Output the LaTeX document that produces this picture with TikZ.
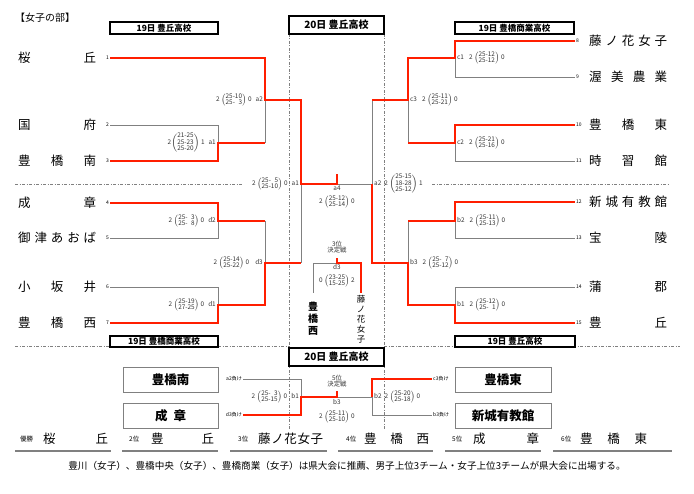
\documentclass[tikz,border=0pt]{standalone}
\usepackage{fontspec}
\setmainfont{Noto Sans CJK JP}
\usetikzlibrary{positioning,calc}
\definecolor{myred}{RGB}{255,30,0}
\definecolor{mygray}{RGB}{128,128,128}
\newcommand{\score}[1]{$\left(\begin{tabular}{@{}c@{}}#1\end{tabular}\right)$}
\newcommand{\spread}[2][78pt]{\makebox[#1]{#2}}

\begin{document}
\begin{tikzpicture}[x=1pt,y=-1pt,
        win/.style={draw=myred,line width=2pt},
        lose/.style={draw=mygray,line width=0.8pt},
        sep/.style={draw=mygray,line width=0.6pt,dash pattern=on 3pt off 1.5pt on 1pt off 1.5pt},
        tname/.style={anchor=west,inner sep=0pt,font=\fontsize{12.5}{13}\selectfont},
        num/.style={inner sep=1pt,font=\fontsize{5}{5}\selectfont},
        res/.style={inner sep=1pt,text=black!80,font=\fontsize{6.4}{6.6}\selectfont},
        day/.style={draw=black,line width=1.5pt,fill=white,inner sep=0pt,minimum height=12pt,font=\bfseries\fontsize{8.5}{9}\selectfont},
        team/.style={draw=mygray,line width=0.8pt,fill=white,inner sep=0pt,minimum width=95pt,minimum height=25pt,font=\bfseries\fontsize{12.5}{13}\selectfont},
        rank/.style={anchor=west,inner sep=0pt,font=\fontsize{6.5}{7}\selectfont},
        ]
        \useasboundingbox (0,0) rectangle (694,494);

        % the separating lines
        \draw[sep] (289,34) -- (289,430);
        \draw[sep] (384,34) -- (384,430);
        \draw[sep] (15,184) -- (243,184);
        \draw[sep] (432,184) -- (670,184);
        \draw[sep] (15,346) -- (289,346);
        \draw[sep] (384,346) -- (680,346);

        % the headers
        \node[anchor=west,inner sep=0pt,font=\fontsize{10}{10}\selectfont] (title) at (15,18) {【女子の部】};
        \node[day,minimum width=108pt] (dayL) at (164,28) {19日 豊丘高校};
        \node[day,minimum width=95pt,minimum height=18pt,font=\bfseries\fontsize{10}{10}\selectfont] (dayC) at (336.5,25) {20日 豊丘高校};
        \node[day,minimum width=119pt] (dayR) at (514.5,28) {19日 豊橋商業高校};

        % the teams on the left
        \node[tname] (n1) at (18,58) {\spread{桜\hfill 丘}};
        \node[tname] (n2) at (18,125) {\spread{国\hfill 府}};
        \node[tname] (n3) at (18,161) {\spread{豊\hfill 橋\hfill 南}};
        \node[tname] (n4) at (18,203) {\spread{成\hfill 章}};
        \node[tname] (n5) at (18,238) {\spread{御\hfill 津\hfill あ\hfill お\hfill ば}};
        \node[tname] (n6) at (18,287) {\spread{小\hfill 坂\hfill 井}};
        \node[tname] (n7) at (18,323) {\spread{豊\hfill 橋\hfill 西}};

        % the teams on the right
        \node[tname] (n8) at (589,41) {\spread{藤\hfill ノ\hfill 花\hfill 女\hfill 子}};
        \node[tname] (n9) at (589,77) {\spread{渥\hfill 美\hfill 農\hfill 業}};
        \node[tname] (n10) at (589,125) {\spread{豊\hfill 橋\hfill 東}};
        \node[tname] (n11) at (589,161) {\spread{時\hfill 習\hfill 館}};
        \node[tname] (n12) at (589,202) {\spread{新\hfill 城\hfill 有\hfill 教\hfill 館}};
        \node[tname] (n13) at (589,238) {\spread{宝\hfill 陵}};
        \node[tname] (n14) at (589,287) {\spread{蒲\hfill 郡}};
        \node[tname] (n15) at (589,323) {\spread{豊\hfill 丘}};

        % the ends of the team lines
        \coordinate (L1) at (110,58);
        \coordinate (L2) at (110,125);
        \coordinate (L3) at (110,161);
        \coordinate (L4) at (110,203);
        \coordinate (L5) at (110,238);
        \coordinate (L6) at (110,287);
        \coordinate (L7) at (110,323);
        \coordinate (R8) at (575,41);
        \coordinate (R9) at (575,77);
        \coordinate (R10) at (575,125);
        \coordinate (R11) at (575,161);
        \coordinate (R12) at (575,202);
        \coordinate (R13) at (575,238);
        \coordinate (R14) at (575,287);
        \coordinate (R15) at (575,323);

        % the draw numbers
        \node[num,anchor=east] (k1) at (L1) {1};
        \node[num,anchor=east] (k2) at (L2) {2};
        \node[num,anchor=east] (k3) at (L3) {3};
        \node[num,anchor=east] (k4) at (L4) {4};
        \node[num,anchor=east] (k5) at (L5) {5};
        \node[num,anchor=east] (k6) at (L6) {6};
        \node[num,anchor=east] (k7) at (L7) {7};
        \node[num,anchor=west] (k8) at (R8) {8};
        \node[num,anchor=west] (k9) at (R9) {9};
        \node[num,anchor=west] (k10) at (R10) {10};
        \node[num,anchor=west] (k11) at (R11) {11};
        \node[num,anchor=west] (k12) at (R12) {12};
        \node[num,anchor=west] (k13) at (R13) {13};
        \node[num,anchor=west] (k14) at (R14) {14};
        \node[num,anchor=west] (k15) at (R15) {15};

        % the match points
        \coordinate (a1) at (218,143);
        \coordinate (a2) at (265,100);
        \coordinate (d2) at (218,221);
        \coordinate (d1) at (218,305);
        \coordinate (d3) at (265,263);
        \coordinate (c1) at (455,58);
        \coordinate (c2) at (455,143);
        \coordinate (c3) at (408,100);
        \coordinate (b2) at (455,221);
        \coordinate (b1) at (455,305);
        \coordinate (b3) at (408,263);
        \coordinate (sL) at (301,184);
        \coordinate (sR) at (372,184);
        \coordinate (fin) at (337,184);
        \coordinate (t3) at (337,263);
        \coordinate (t3L) at (313,293);
        \coordinate (t3R) at (361,293);

        % the lost matches
        \draw[lose] (L2) -- (L2 -| a1) -- (a1);
        \draw[lose] (a1 -| a2) -- (a2);
        \draw[lose] (L5) -- (L5 -| d2) -- (d2);
        \draw[lose] (L6) -- (L6 -| d1) -- (d1);
        \draw[lose] (d2 -| d3) -- (d3);
        \draw[lose] (d3 -| sL) -- (sL);
        \draw[lose] (R9) -- (R9 -| c1) -- (c1);
        \draw[lose] (R11) -- (R11 -| c2) -- (c2);
        \draw[lose] (c2 -| c3) -- (c3);
        \draw[lose] (c3 -| sR) -- (sR) -- (fin);
        \draw[lose] (R13) -- (R13 -| b2) -- (b2);
        \draw[lose] (R14) -- (R14 -| b1) -- (b1);
        \draw[lose] (b2 -| b3) -- (b3);
        \draw[lose] (t3L) |- (t3);

        % the won matches
        \draw[win] (L1) -- (L1 -| a2) -- (a2) -- (a2 -| sL) -- (sL) -- (fin) -- ++(0,-10);
        \draw[win] (L3) -- (L3 -| a1) -- (a1) -- (a1 -| a2);
        \draw[win] (L4) -- (L4 -| d2) -- (d2) -- (d2 -| d3);
        \draw[win] (L7) -- (L7 -| d1) -- (d1) -- (d1 -| d3) -- (d3) -- (d3 -| sL);
        \draw[win] (R8) -- (R8 -| c1) -- (c1) -- (c1 -| c3) -- (c3) -- (c3 -| sR);
        \draw[win] (R10) -- (R10 -| c2) -- (c2) -- (c2 -| c3);
        \draw[win] (R12) -- (R12 -| b2) -- (b2) -- (b2 -| b3);
        \draw[win] (R15) -- (R15 -| b1) -- (b1) -- (b1 -| b3) -- (b3) -- (b3 -| sR) -- (sR);
        \draw[win] (t3R) |- (t3) -- ++(0,-5);

        % the scores
        \node[res,anchor=east] (ra2) at (264,100) {2 \score{25-10\\25-\hphantom{1}3} 0\hspace{4pt}a2};
        \node[res,anchor=east] (ra1) at (217,143) {2\score{21-25\\25-23\\25-20} 1\hspace{4pt}a1};
        \node[res,anchor=east] (rd2) at (217,221) {2 \score{25-\hphantom{1}3\\25-\hphantom{1}8} 0\hspace{4pt}d2};
        \node[res,anchor=east] (rd3) at (264,263) {2 \score{25-14\\25-22} 0\hspace{6pt}d3};
        \node[res,anchor=east] (rd1) at (217,305) {2 \score{25-19\\27-25} 0\hspace{4pt}d1};
        \node[res,anchor=east] (rsL) at (300,184) {2 \score{25-\hphantom{1}5\\25-10} 0\hspace{4pt}a1};
        \node[res,anchor=west] (rc1) at (456,58) {c1\hspace{5pt}2 \score{25-12\\25-12} 0};
        \node[res,anchor=west] (rc2) at (456,143) {c2\hspace{5pt}2 \score{25-21\\25-16} 0};
        \node[res,anchor=west] (rc3) at (409,100) {c3\hspace{5pt}2 \score{25-11\\25-21} 0};
        \node[res,anchor=west] (rb2) at (456,221) {b2\hspace{5pt}2 \score{25-11\\25-13} 0};
        \node[res,anchor=west] (rb1) at (456,305) {b1\hspace{5pt}2 \score{25-12\\25-\hphantom{1}1} 0};
        \node[res,anchor=west] (rb3) at (409,263) {b3\hspace{5pt}2 \score{25-\hphantom{1}7\\25-12} 0};
        \node[res,anchor=west] (rsR) at (373,184) {a2\hspace{3pt}2 \score{25-15\\18-28\\25-12} 1};
        \node[res] (la4) at (337,188) {a4};
        \node[res] (ra4) at (337,202) {2 \score{25-12\\25-14} 0};

        % the match for third place
        \node[res,align=center] (h3) at (337,247) {3位\\決定戦};
        \node[res] (ld3) at (337,267) {d3};
        \node[res] (rt3) at (337,281) {0 \score{23-25\\15-25} 2};
        \node[inner sep=0pt,align=center,font=\bfseries\fontsize{10}{12}\selectfont] (v7) at (313,319) {豊\\橋\\西};
        \node[inner sep=0pt,align=center,font=\fontsize{8.5}{10}\selectfont] (v8) at (361,319) {藤\\ノ\\花\\女\\子};

        % the lower headers
        \node[day,minimum width=108pt,minimum height=11pt] (dayL2) at (164,341.5) {19日 豊橋商業高校};
        \node[day,minimum width=120pt,minimum height=11pt] (dayR2) at (515,341.5) {19日 豊丘高校};
        \node[day,minimum width=95pt,minimum height=18pt,font=\bfseries\fontsize{10}{10}\selectfont] (dayC2) at (336.5,357) {20日 豊丘高校};

        % the match for fifth place
        \node[team] (e3) at (170.5,379.5) {豊橋南};
        \node[team] (e4) at (170.5,416) {成\hspace{6pt}章};
        \node[team,minimum width=96pt] (e10) at (503,379.5) {豊橋東};
        \node[team,minimum width=96pt] (e12) at (503,416) {新城有教館};
        \coordinate (aL) at (243,379);
        \coordinate (dL) at (243,415);
        \coordinate (cL) at (432,379);
        \coordinate (bL) at (432,415);
        \coordinate (m1) at (301,397);
        \coordinate (m2) at (372,397);
        \coordinate (f5) at (337,397);
        \node[num,anchor=east] (qa) at (aL) {a2負け};
        \node[num,anchor=east] (qd) at (dL) {d3負け};
        \node[num,anchor=west] (qc) at (cL) {c3負け};
        \node[num,anchor=west] (qb) at (bL) {b3負け};
        \draw[lose] (aL) -| (m1);
        \draw[lose] (f5) -- (m2) -- (m2 |- bL) -- (bL);
        \draw[win] (dL) -| (m1) -- (f5) -- ++(0,-6);
        \draw[win] (m2) -- (m2 |- cL) -- (cL);
        \node[res,anchor=east] (rm1) at (300,397) {2 \score{25-\hphantom{1}3\\25-15} 0\hspace{4pt}b1};
        \node[res,anchor=west] (rm2) at (373,397) {b2\hspace{3pt}2 \score{25-20\\25-18} 0};
        \node[res,align=center] (h5) at (337,381) {5位\\決定戦};
        \node[res] (lb3) at (337,402) {b3};
        \node[res] (rf5) at (337,417) {2 \score{25-11\\25-10} 0};

        % the final ranking
        \draw[lose,line width=1.2pt] (15,451) -- (111,451);
        \draw[lose,line width=1.2pt] (122,451) -- (218,451);
        \draw[lose,line width=1.2pt] (230,451) -- (327,451);
        \draw[lose,line width=1.2pt] (338,451) -- (433,451);
        \draw[lose,line width=1.2pt] (445,451) -- (541,451);
        \draw[lose,line width=1.2pt] (553,451) -- (672,451);
        \node[rank] (p1) at (20,439) {優勝};
        \node[tname] (w1) at (43,439) {\spread[65pt]{桜\hfill 丘}};
        \node[rank] (p2) at (129,439) {2位};
        \node[tname] (w2) at (151,439) {\spread[63pt]{豊\hfill 丘}};
        \node[rank] (p3) at (238,439) {3位};
        \node[tname] (w3) at (258,439) {\spread[65pt]{藤\hfill ノ\hfill 花\hfill 女\hfill 子}};
        \node[rank] (p4) at (346,439) {4位};
        \node[tname] (w4) at (364,439) {\spread[65pt]{豊\hfill 橋\hfill 西}};
        \node[rank] (p5) at (452,439) {5位};
        \node[tname] (w5) at (473,439) {\spread[66pt]{成\hfill 章}};
        \node[rank] (p6) at (561,439) {6位};
        \node[tname] (w6) at (580,439) {\spread[67pt]{豊\hfill 橋\hfill 東}};

        % the note
        \node[inner sep=0pt,font=\fontsize{9.6}{10}\selectfont] (note) at (347,466) {豊川（女子）、豊橋中央（女子）、豊橋商業（女子）は県大会に推薦、男子上位3チーム・女子上位3チームが県大会に出場する。};
\end{tikzpicture}
\end{document}
